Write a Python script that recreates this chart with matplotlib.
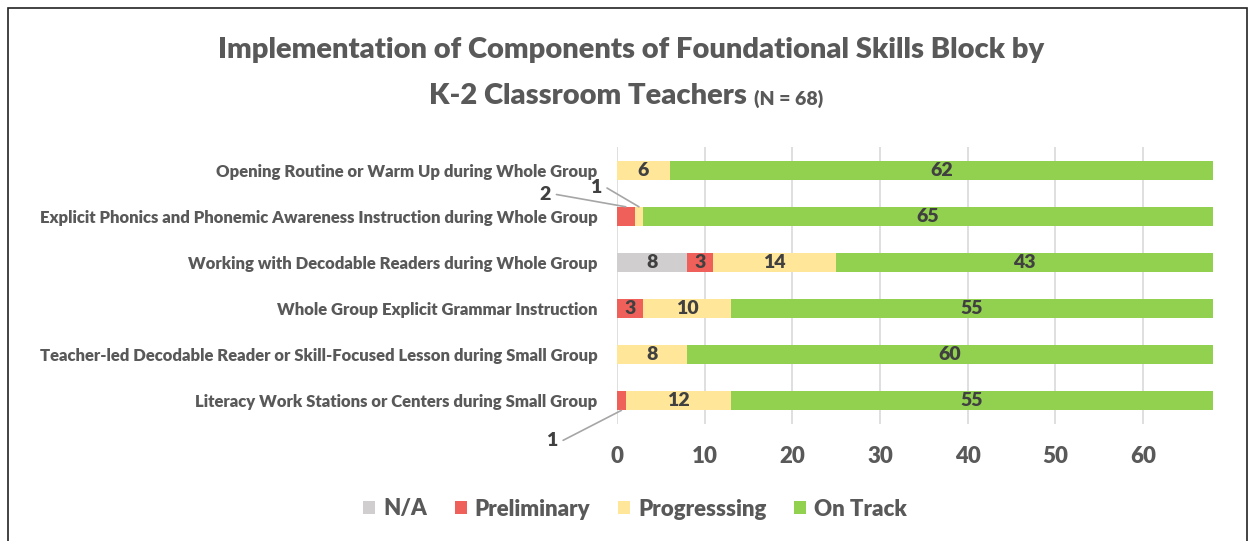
import matplotlib
matplotlib.use("Agg")
import matplotlib.pyplot as plt
import numpy as np
from matplotlib.patches import Rectangle

plt.rcParams['font.family'] = ['Lato', 'DejaVu Sans']
W = 800  # heavy weight, closest to Calibri bold look

categories = [
    "Opening Routine or Warm Up during Whole Group",
    "Explicit Phonics and Phonemic Awareness Instruction during Whole Group",
    "Working with Decodable Readers during Whole Group",
    "Whole Group Explicit Grammar Instruction",
    "Teacher-led Decodable Reader or Skill-Focused Lesson during Small Group",
    "Literacy Work Stations or Centers during Small Group",
]
na_vals = [0, 0, 8, 0, 0, 0]
prelim_vals = [0, 2, 3, 3, 0, 1]
progress_vals = [6, 1, 14, 10, 8, 12]
ontrack_vals = [62, 65, 43, 55, 60, 55]

series_names = ["N/A", "Preliminary", "Progresssing", "On Track"]
series_colors = ["#D0CECE", "#F0605A", "#FFE699", "#92D050"]
series_vals = [na_vals, prelim_vals, progress_vals, ontrack_vals]

# callouts for tiny segments: (row, series index) -> label offset in points
callouts = {
    (1, 1): (-58, 9),
    (1, 2): (-31, 14),
    (5, 1): (-50, -22),
}

text_gray = "#595959"
label_dark = "#404040"

fig = plt.figure(figsize=(12.5, 5.41), dpi=100)
ax = fig.add_axes([617 / 1250, 1 - 424 / 541, (1213 - 617) / 1250, (424 - 147) / 541])

y = np.arange(len(categories))
bar_h = 0.41
left = np.zeros(len(categories))
for s, (name, color, vals) in enumerate(zip(series_names, series_colors, series_vals)):
    vals = np.array(vals, dtype=float)
    ax.barh(y, vals, left=left, height=bar_h, color=color, label=name, zorder=3)
    for i, v in enumerate(vals):
        if v <= 0:
            continue
        if (i, s) in callouts:
            dx, dy = callouts[(i, s)]
            edge = y[i] - bar_h / 2 if dy > 0 else y[i] + bar_h / 2
            ax.annotate(str(int(v)), xy=(left[i] + v / 2, edge),
                        xytext=(dx, dy), textcoords='offset points', ha='center', va='center',
                        fontsize=14, fontweight=W, color=label_dark,
                        arrowprops=dict(arrowstyle='-', color='#a6a6a6', lw=1.2, shrinkA=2, shrinkB=0,
                                        connectionstyle='arc,angleA=0,armA=10,angleB=0,armB=0,rad=0'),
                        annotation_clip=False)
        else:
            ax.text(left[i] + v / 2, y[i], str(int(v)), ha='center', va='center',
                    fontsize=14, fontweight=W, color=label_dark, zorder=4)
    left += vals

ax.set_xlim(0, 68)
ax.set_ylim(len(categories) - 0.5, -0.5)
ax.set_xticks(np.arange(0, 61, 10))
ax.set_yticks(y)
ax.set_yticklabels(categories)
ax.tick_params(axis='y', length=0, pad=14, labelsize=12, labelcolor=text_gray)
ax.tick_params(axis='x', length=0, pad=16, labelsize=16, labelcolor=text_gray)
for lab in ax.get_xticklabels() + ax.get_yticklabels():
    lab.set_fontweight(W)
ax.grid(axis='x', color='#D9D9D9', linewidth=1.2, zorder=0)
for sp in ax.spines.values():
    sp.set_visible(False)

fig.text(0.505, 1 - 50 / 541, "Implementation of Components of Foundational Skills Block by",
         ha='center', va='center', fontsize=21, fontweight=W, color=text_gray)
fig.text(747 / 1250, 1 - 96 / 541, "K-2 Classroom Teachers", ha='right', va='center',
         fontsize=21, fontweight=W, color=text_gray)
fig.text(754 / 1250, 1 - 99 / 541, "(N = 68)", ha='left', va='center',
         fontsize=14, fontweight=W, color=text_gray)

fig.legend(loc='center', bbox_to_anchor=(0.508, 1 - 509 / 541), ncol=4, frameon=False,
           handlelength=0.55, handleheight=0.55, handletextpad=0.35,
           columnspacing=1.25, labelcolor=text_gray, prop={'weight': W, 'size': 16})

fig.patches.append(Rectangle((8 / 1250, -0.05), (1247 - 8) / 1250, 1.05 - 8 / 541,
                             transform=fig.transFigure, fill=False, edgecolor='#222222',
                             linewidth=1.2))

fig.savefig("out.png", dpi=100)
